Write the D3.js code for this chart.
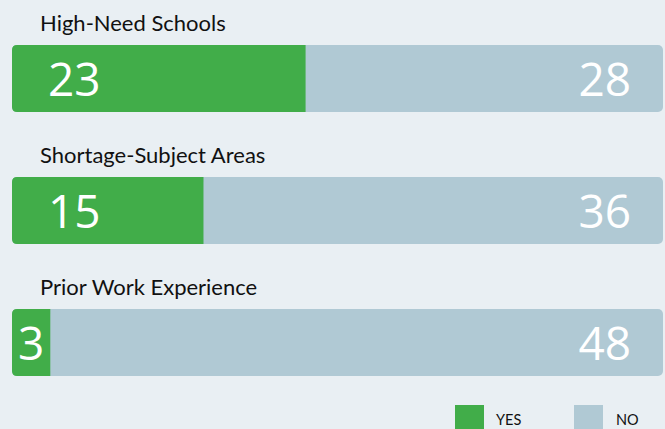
<!DOCTYPE html>
<html>
<head>
<meta charset="utf-8">
<script src="https://cdn.jsdelivr.net/npm/d3@7"></script>
<style>
  html, body { margin: 0; padding: 0; background: #e9eff3; }
  svg { display: block; font-family: "Open Sans", sans-serif; }
</style>
</head>
<body>
<div id="chart"></div>
<script>
// Dane wykresu
const categories = ["High-Need Schools", "Shortage-Subject Areas", "Prior Work Experience"];
const yesValues = [23, 15, 3];
const noValues = [28, 36, 48];
const legendLabels = ["YES", "NO"];
const colors = ["#41ad49", "#b0c9d4"];

const width = 665, height = 429;

const svg = d3.select("#chart").append("svg")
  .attr("width", width)
  .attr("height", height);

const rows = categories.map((c, i) => ({
  name: c, yes: yesValues[i], no: noValues[i], total: yesValues[i] + noValues[i]
}));

// Skale
const y = d3.scaleBand()
  .domain(categories)
  .range([12, 408])
  .paddingInner(0)
  .paddingOuter(0);

const barTop = 33, barH = 67;

const x = d3.scaleLinear()
  .domain([0, d3.max(rows, d => d.total)])
  .range([12, 663]);

const g = svg.selectAll("g.row").data(rows).enter().append("g")
  .attr("class", "row")
  .attr("transform", d => `translate(0,${y(d.name)})`);

// Podpis kategorii
g.append("text")
  .attr("x", 40)
  .attr("y", 19)
  .attr("font-family", "Lato, sans-serif")
  .attr("font-size", 22)
  .attr("fill", "#111")
  .text(d => d.name);

// Tło (NO) - cały pasek zaokrąglony
g.append("rect")
  .attr("x", x(0))
  .attr("y", barTop)
  .attr("width", d => x(d.total) - x(0))
  .attr("height", barH)
  .attr("rx", 5)
  .attr("fill", colors[1]);

// YES - zaokrąglony tylko z lewej
g.append("path")
  .attr("fill", colors[0])
  .attr("d", d => {
    const x0 = x(0), x1 = x(d.yes), r = 5;
    const t = barTop, b = barTop + barH;
    return `M${x1},${t} L${x0 + r},${t} Q${x0},${t} ${x0},${t + r} L${x0},${b - r} Q${x0},${b} ${x0 + r},${b} L${x1},${b} Z`;
  });

// Wartości
g.append("text")
  .attr("x", d => (x(d.yes) - x(0) < 60 ? (x(0) + x(d.yes)) / 2 : x(0) + 36))
  .attr("text-anchor", d => (x(d.yes) - x(0) < 60 ? "middle" : "start"))
  .attr("y", barTop + 51)
  .attr("font-size", 46)
  .attr("fill", "#fff")
  .text(d => d.yes);

g.append("text")
  .attr("x", x(d3.max(rows, d => d.total)) - 32)
  .attr("text-anchor", "end")
  .attr("y", barTop + 51)
  .attr("font-size", 46)
  .attr("fill", "#fff")
  .text(d => d.no);

// Legenda
const legendX = [455, 574];
const lg = svg.selectAll("g.legend").data(legendLabels).enter().append("g")
  .attr("class", "legend")
  .attr("transform", (d, i) => `translate(${legendX[i]},405)`);

lg.append("rect")
  .attr("width", 29)
  .attr("height", 26)
  .attr("fill", (d, i) => colors[i]);

lg.append("text")
  .attr("x", (d, i) => (i === 0 ? 41 : 42))
  .attr("y", 20)
  .attr("font-family", "Lato, sans-serif")
  .attr("font-size", 14.5)
  .attr("fill", "#111")
  .text(d => d);
</script>
</body>
</html>
